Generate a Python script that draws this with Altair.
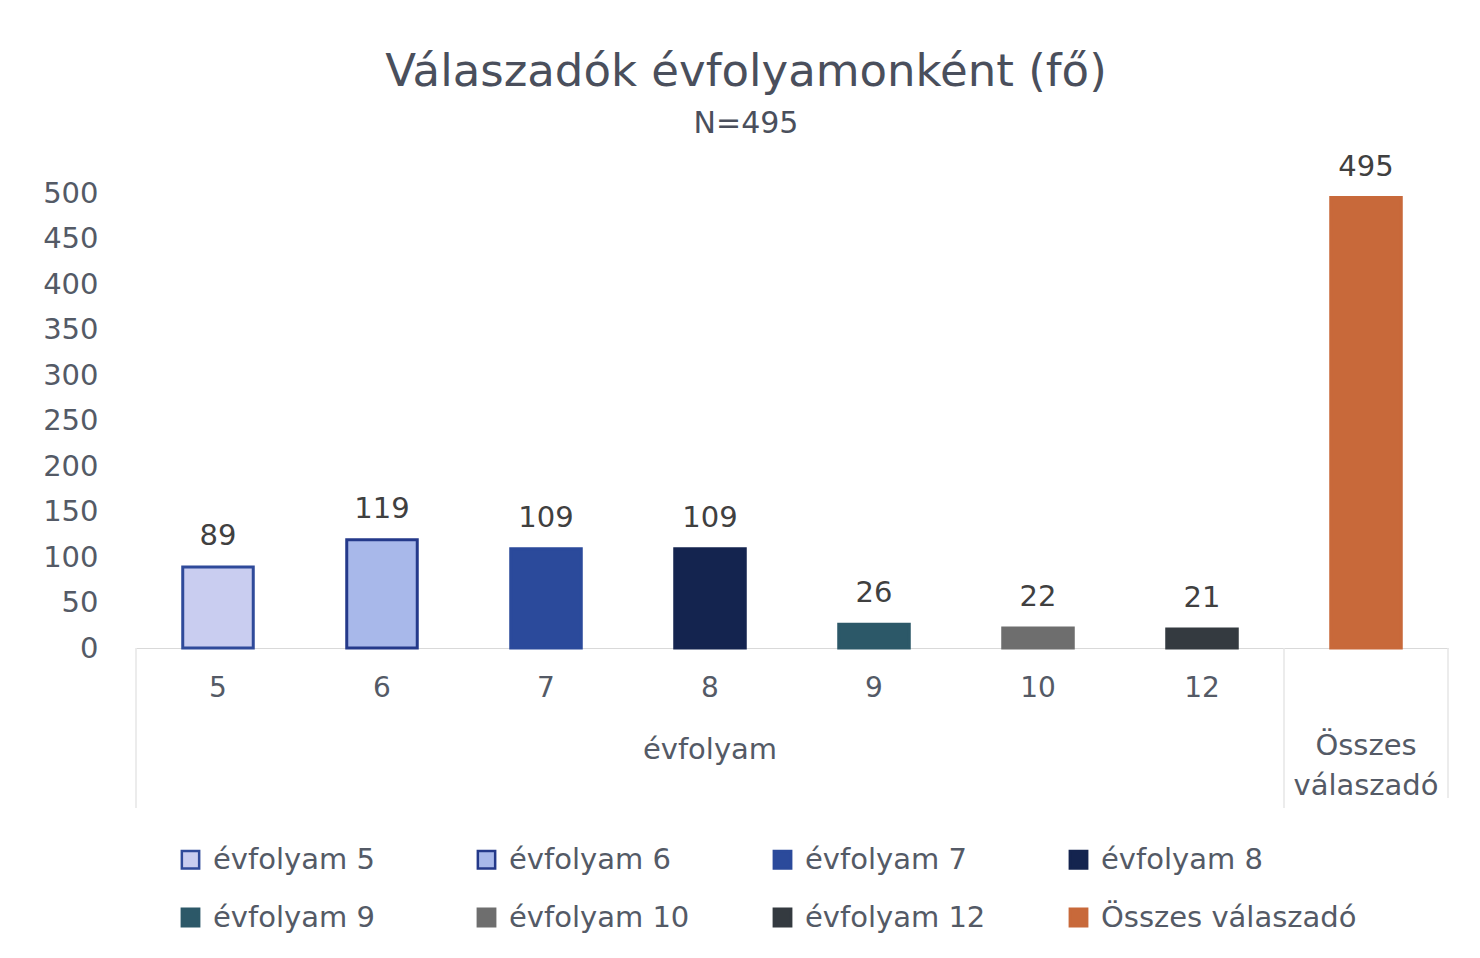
import altair as alt
import pandas as pd

categories = ["5", "6", "7", "8", "9", "10", "12", "Összes válaszadó"]
series = ["évfolyam 5", "évfolyam 6", "évfolyam 7", "évfolyam 8",
          "évfolyam 9", "évfolyam 10", "évfolyam 12", "Összes válaszadó"]
values = [89, 119, 109, 109, 26, 22, 21, 495]
fill_colors = ["#c9cdf0", "#a8b8ea", "#2b4a9b", "#14244f",
               "#2c5868", "#6e6e6e", "#343a40", "#c8693a"]
stroke_colors = ["#2f4a9a", "#24398a", "#2b4a9b", "#14244f",
                 "#2c5868", "#6e6e6e", "#343a40", "#c8693a"]
y_ticks = [0, 50, 100, 150, 200, 250, 300, 350, 400, 450, 500]

df = pd.DataFrame({"cat": categories, "series": series, "value": values})

W, H = 1312, 455
STEP = W / len(categories)
PAD_INNER = 0.57
BW = STEP * (1 - PAD_INNER)
FONT = "DejaVu Sans"
TXT = "#545a66"

xenc = alt.X(
    "cat:N", sort=categories,
    scale=alt.Scale(domain=categories, paddingInner=PAD_INNER),
    axis=alt.Axis(title=None, labelAngle=0, labelAlign="center",
                  labelFontSize=28, labelColor=TXT,
                  labelFont=FONT, labelPadding=40, ticks=False,
                  domainColor="#d9d9d9",
                  labelExpr="datum.value == 'Összes válaszadó' ? '' : datum.value"),
)
yenc = alt.Y(
    "value:Q", scale=alt.Scale(domain=[0, 500]),
    axis=alt.Axis(title=None, values=y_ticks, labelFontSize=29, labelColor=TXT,
                  labelFont=FONT, labelPadding=38, ticks=False, domain=False,
                  gridColor="#d9d9d9"),
)

leg = alt.Legend(title=None, orient="none", legendX=40, legendY=652, columns=4,
                 direction="horizontal", symbolType="square", symbolSize=300,
                 symbolStrokeWidth=2.5, labelFontSize=29, labelColor=TXT,
                 labelFont=FONT, labelOffset=8, rowPadding=28, columnPadding=3,
                 gridAlign="all", labelLimit=400)

bars = alt.Chart(df).mark_bar(strokeWidth=3).encode(
    x=xenc, y=yenc,
    fill=alt.Fill("series:N", sort=series,
                  scale=alt.Scale(domain=series, range=fill_colors), legend=leg),
    stroke=alt.Stroke("series:N", sort=series,
                      scale=alt.Scale(domain=series, range=stroke_colors), legend=leg),
)

labels = alt.Chart(df).mark_text(baseline="bottom", dy=-16, fontSize=29,
                                 color="#404040", font=FONT).encode(
    x=alt.X("cat:N", sort=categories), y="value:Q", text="value:Q")

grp1 = alt.Chart(pd.DataFrame({"cat": ["8"], "label": ["évfolyam"]})).mark_text(
    baseline="middle", dy=102, fontSize=29, color=TXT, font=FONT).encode(
    x=alt.X("cat:N", sort=categories), y=alt.datum(0), text="label:N")

grp2 = alt.Chart(pd.DataFrame({"cat": ["Összes válaszadó"],
                               "label": ["Összes\nválaszadó"]})).mark_text(
    baseline="middle", dy=98, fontSize=29, color=TXT, font=FONT,
    lineBreak="\n", lineHeight=40).encode(
    x=alt.X("cat:N", sort=categories), y=alt.datum(0), text="label:N")

sep_left = alt.Chart(pd.DataFrame({"cat": ["5", "Összes válaszadó"]})).mark_rule(
    color="#e6e6e6", strokeWidth=1.5).encode(
    x=alt.X("cat:N", sort=categories),
    xOffset=alt.value(BW / 2 - STEP / 2),
    y=alt.datum(0), y2=alt.value(H + 160))
sep_right = alt.Chart(pd.DataFrame({"cat": ["Összes válaszadó"]})).mark_rule(
    color="#e6e6e6", strokeWidth=1.5).encode(
    x=alt.X("cat:N", sort=categories),
    xOffset=alt.value(BW / 2 + STEP / 2),
    y=alt.datum(0), y2=alt.value(H + 150))

chart = alt.layer(sep_left, sep_right, bars, labels, grp1, grp2).properties(
    width=W, height=H,
    title=alt.TitleParams("Válaszadók évfolyamonként (fő)", subtitle="N=495",
                          anchor="middle", dx=-46, offset=14, fontSize=45,
                          fontWeight="normal", color="#4a4f5c", font=FONT,
                          subtitleFontSize=30, subtitleColor="#4a4f5c",
                          subtitleFont=FONT, subtitlePadding=14),
    autosize=alt.AutoSizeParams(type="none"),
    padding={"left": 128, "top": 185, "right": 24, "bottom": 300},
    background="white",
).configure(font=FONT).configure_view(strokeWidth=0)

chart.save("out.html", embed_options={"renderer": "svg", "actions": False})
